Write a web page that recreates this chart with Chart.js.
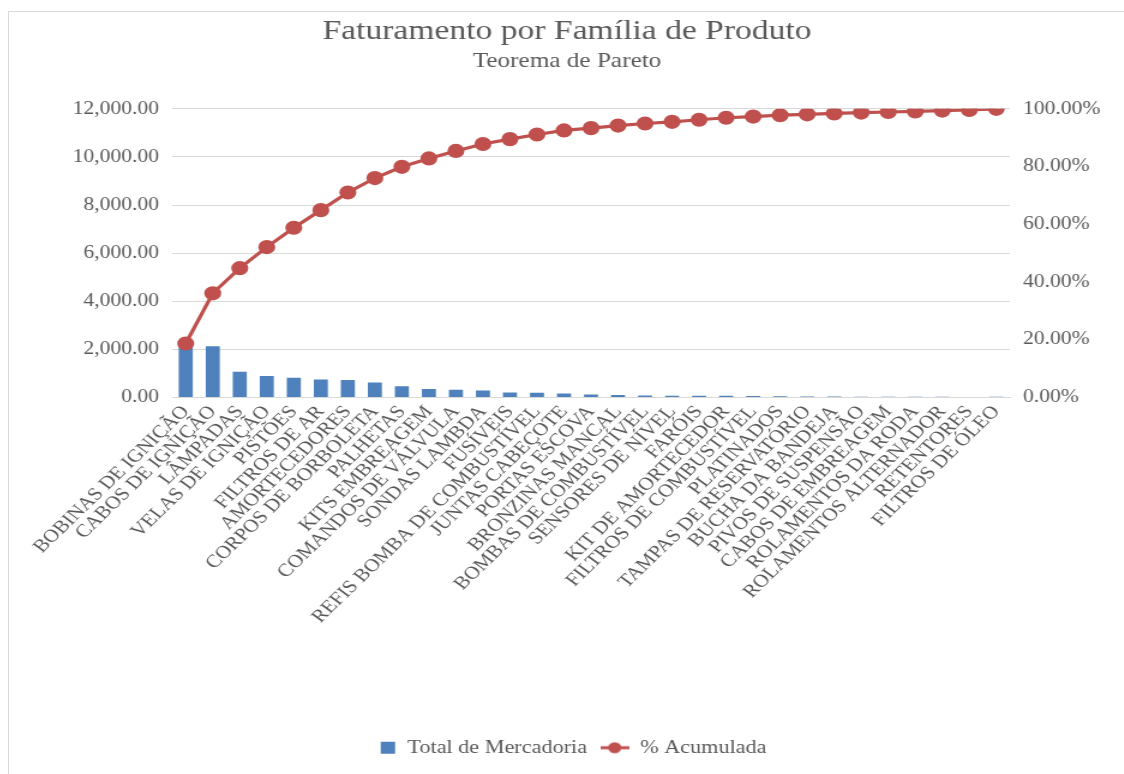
<!DOCTYPE html>
<html>
<head>
<meta charset="utf-8">
<script src="https://cdn.jsdelivr.net/npm/chart.js@4.4.1/dist/chart.umd.min.js"></script>
<style>
  html, body { margin: 0; padding: 0; background: #fff; overflow: hidden; }
  #frame {
    position: absolute; left: 8px; top: 11px;
    width: 1116px; height: 763px;
    border-left: 1px solid #d9d9d9; border-top: 1px solid #d9d9d9;
  }
  /* the source screenshot is stretched ~1.2x horizontally, so draw narrower and stretch */
  #wrap {
    position: absolute; left: 0; top: 0;
    width: 930px; height: 763px;
    transform: scaleX(1.2); transform-origin: 0 0;
  }
</style>
</head>
<body>
<div id="frame"><div id="wrap"><canvas id="paretoChart"></canvas></div></div>
<script>
// categories (product families)
const categories = [
  "BOBINAS DE IGNIÇÃO", "CABOS DE IGNIÇÃO", "LÂMPADAS", "VELAS DE IGNIÇÃO", "PISTÕES",
  "FILTROS DE AR", "AMORTECEDORES", "CORPOS DE BORBOLETA", "PALHETAS", "KITS EMBREAGEM",
  "COMANDOS DE VÁLVULA", "SONDAS LAMBDA", "FUSÍVEIS", "REFIS BOMBA DE COMBUSTÍVEL", "JUNTAS CABEÇOTE",
  "PORTAS ESCOVA", "BRONZINAS MANCAL", "BOMBAS DE COMBUSTÍVEL", "SENSORES DE NÍVEL", "FARÓIS",
  "KIT DE AMORTECEDOR", "FILTROS DE COMBUSTÍVEL", "PLATINADOS", "TAMPAS DE RESERVATÓRIO", "BUCHA DA BANDEJA",
  "PIVOS DE SUSPENSÃO", "CABOS DE EMBREAGEM", "ROLAMENTOS DA RODA", "ROLAMENTOS ALTERNADOR", "RETENTORES",
  "FILTROS DE ÓLEO"
];

// Total de Mercadoria (bars, left axis)
const totalMercadoria = [
  2280, 2130, 1070, 890, 820,
  745, 730, 620, 470, 355,
  320, 290, 207, 195, 165,
  120, 105, 85, 75, 75,
  70, 60, 55, 40, 40,
  35, 30, 30, 30, 25,
  35
];

// % Acumulada (line, right axis)
const pctAcumulada = [
  18.7, 36.1, 44.8, 52.1, 58.8,
  64.9, 71.0, 76.0, 79.9, 82.8,
  85.4, 87.8, 89.5, 91.1, 92.5,
  93.3, 94.2, 94.9, 95.5, 96.2,
  96.9, 97.3, 97.8, 98.1, 98.4,
  98.7, 98.9, 99.1, 99.4, 99.6,
  100.0
];

// tick labels
const leftTicks = [0, 2000, 4000, 6000, 8000, 10000, 12000];
const rightTicks = [0, 20, 40, 60, 80, 100];

const barColor = "#4F81BD";
const lineColor = "#C0504D";
const textColor = "#595959";
const serif = "'Liberation Serif', 'Times New Roman', serif";

// legend icons: plain square for the bars, line with a dot for the cumulative %
function makeIcon(draw) {
  const c = document.createElement("canvas");
  c.width = 24;
  c.height = 14;
  draw(c.getContext("2d"));
  return c;
}
const barIcon = makeIcon(g => {
  g.fillStyle = barColor;
  g.fillRect(11, 1, 12, 12);
});
const lineIcon = makeIcon(g => {
  g.strokeStyle = lineColor;
  g.lineWidth = 3;
  g.beginPath(); g.moveTo(0, 7); g.lineTo(24, 7); g.stroke();
  g.fillStyle = lineColor;
  g.beginPath(); g.arc(12, 7, 5.5, 0, Math.PI * 2); g.fill();
});

const ctx = document.getElementById("paretoChart").getContext("2d");
new Chart(ctx, {
  data: {
    labels: categories,
    datasets: [
      {
        type: "line",
        label: "% Acumulada",
        data: pctAcumulada,
        yAxisID: "yPct",
        borderColor: lineColor,
        backgroundColor: lineColor,
        borderWidth: 3.2,
        pointRadius: 5.5,
        pointHoverRadius: 5.5,
        tension: 0,
        order: 0,
      },
      {
        type: "bar",
        label: "Total de Mercadoria",
        data: totalMercadoria,
        yAxisID: "y",
        backgroundColor: barColor,
        categoryPercentage: 1,
        barPercentage: 0.52,
        order: 1,
      },
    ],
  },
  options: {
    responsive: true,
    maintainAspectRatio: false,
    animation: false,
    layout: { padding: { left: 0, right: 0, top: 0, bottom: 8 } },
    plugins: {
      title: {
        display: true,
        text: "Faturamento por Família de Produto",
        color: textColor,
        font: { family: serif, size: 28, weight: "normal" },
        padding: { top: 3, bottom: 0 },
      },
      subtitle: {
        display: true,
        text: "Teorema de Pareto",
        color: textColor,
        font: { family: serif, size: 21, weight: "normal" },
        padding: { top: 0, bottom: 35 },
      },
      legend: {
        position: "bottom",
        reverse: true,
        labels: {
          color: textColor,
          font: { family: serif, size: 18.5 },
          usePointStyle: true,
          pointStyleWidth: 24,
          boxHeight: 14,
          padding: 11,
          generateLabels(chart) {
            return chart.data.datasets.map((ds, i) => ({
              text: ds.label,
              fillStyle: ds.backgroundColor,
              strokeStyle: ds.backgroundColor,
              lineWidth: 0,
              pointStyle: ds.type === "bar" ? barIcon : lineIcon,
              datasetIndex: i,
              fontColor: textColor,
            }));
          },
        },
      },
      tooltip: { enabled: false },
    },
    scales: {
      x: {
        grid: { display: false, drawTicks: false },
        border: { color: "#d9d9d9" },
        ticks: {
          color: textColor,
          font: { family: serif, size: 18 },
          minRotation: 49,
          maxRotation: 49,
          autoSkip: false,
          padding: 4,
        },
        afterFit(scale) { scale.height = 330; },
      },
      y: {
        position: "left",
        min: 0,
        max: 12000,
        afterBuildTicks(scale) { scale.ticks = leftTicks.map(v => ({ value: v })); },
        grid: { color: "#d9d9d9", drawTicks: false },
        border: { display: false },
        ticks: {
          color: textColor,
          font: { family: serif, size: 18 },
          padding: 11,
          callback: v => v.toLocaleString("en-US", { minimumFractionDigits: 2, maximumFractionDigits: 2 }),
        },
        afterFit(scale) { scale.width = 136; },
      },
      yPct: {
        position: "right",
        min: 0,
        max: 100,
        afterBuildTicks(scale) { scale.ticks = rightTicks.map(v => ({ value: v })); },
        grid: { display: false, drawTicks: false },
        border: { display: false },
        ticks: {
          color: textColor,
          font: { family: serif, size: 18 },
          padding: 11,
          callback: v => v.toFixed(2) + "%",
        },
        afterFit(scale) { scale.width = 96; },
      },
    },
  },
});
</script>
</body>
</html>
